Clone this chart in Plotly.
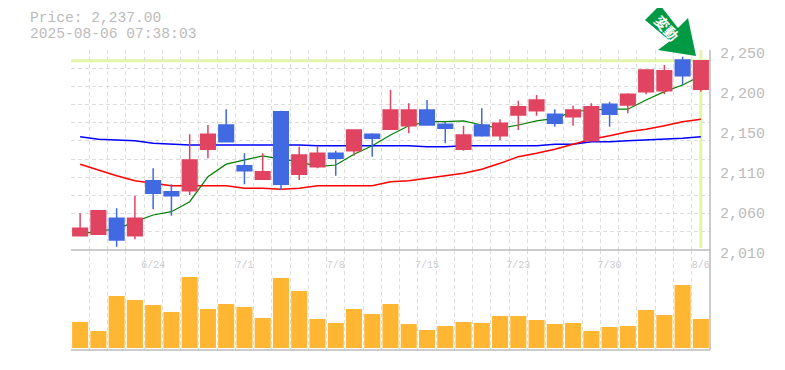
import numpy as np
import plotly.graph_objects as go

PAGE = 8  # default page margin round the figure
WIDTH, HEIGHT = 769, 354
L, R, T, B = 63, 67, 42, 12

opens = [2027,2029,2048,2027,2093,2080,2081,2131,2160,2111,2095,2176,2101,2110,2126,2129,2149,2155,2159,2178,2161,2131,2160,2147,2172,2177,2173,2170,2141,2185,2184,2200,2201,2238,2203]
highs = [2054,2057,2060,2075,2108,2089,2149,2160,2179,2126,2126,2177,2134,2135,2129,2154,2150,2202,2186,2190,2164,2159,2180,2167,2189,2196,2179,2183,2186,2188,2198,2226,2232,2242,2237]
lows = [2027,2029,2014,2023,2059,2051,2076,2120,2140,2089,2095,2082,2094,2108,2099,2123,2122,2154,2150,2159,2138,2129,2146,2142,2154,2171,2158,2159,2141,2158,2174,2197,2197,2208,2200]
closes = [2036,2057,2022,2048,2078,2075,2118,2149,2140,2105,2104,2089,2124,2126,2120,2154,2144,2178,2178,2160,2156,2148,2147,2162,2182,2190,2162,2178,2182,2173,2197,2226,2225,2219,2237]
ma_short = [2029,2033,2035,2044,2052,2056,2068,2098,2113,2118,2123,2119,2116,2110,2112,2125,2135,2148,2159,2164,2164,2165,2160,2156,2160,2165,2168,2176,2178,2179,2179,2190,2200,2208,2219]
ma_mid = [2113,2106,2099,2093,2090,2087,2087,2087,2087,2084,2084,2083,2084,2087,2087,2087,2087,2092,2093,2096,2099,2102,2107,2114,2122,2126,2131,2137,2143,2147,2152,2155,2159,2164,2167]
ma_long = [2146,2143,2142,2141,2138,2137,2136,2136,2136,2136,2136,2136,2136,2135,2135,2135,2135,2135,2135,2134,2134,2135,2135,2135,2135,2135,2137,2137,2140,2140,2141,2142,2143,2144,2146]
volumes = [26,17,52,48,43,36,71,39,44,41,30,70,57,29,25,39,34,44,24,18,22,26,25,32,32,28,24,25,17,21,22,38,33,63,29]
date_idx = [4,9,14,19,24,29,34]
date_labels = ["6/24","7/1","7/8","7/15","7/23","7/30","8/6"]
price_ticks = [2250,2202,2154,2106,2058,2010]
price_labels = ["2,250","2,200","2,150","2,110","2,060","2,010"]
current_price = 2237
title_lines = ["Price: 2,237.00","2025-08-06 07:38:03"]
badge_text = "変動"

idx = list(range(len(opens)))
xr = [-0.5, len(opens)-0.5]
yr = [2010, 2250]
vr = [-2, 98]
GRID = "#dddddd"; FRAME = "#bbbbbb"; TXT = "#bbbbbb"; HL = "#e2f5a8"
MONO = "Liberation Mono"
CLEAR = "rgba(0,0,0,0)"

def px(x): return (x-PAGE-L)/(WIDTH-L-R)
def py(y): return (HEIGHT-B-(y-PAGE))/(HEIGHT-T-B)

fig = go.Figure()
for vals, col, w in [(ma_long,"#0000ff",1.5),(ma_mid,"#ff0000",1.5),(ma_short,"#008000",1.2)]:
    fig.add_trace(go.Scatter(x=idx,y=vals,mode="lines",line=dict(color=col,width=w),xaxis="x",yaxis="y",showlegend=False,hoverinfo="skip"))
fig.add_trace(go.Candlestick(x=idx,open=opens,high=highs,low=lows,close=closes,xaxis="x",yaxis="y2",showlegend=False,whiskerwidth=0,
    increasing=dict(line=dict(color="#e04460",width=1.5),fillcolor="#e04460"),
    decreasing=dict(line=dict(color="#4169e1",width=1.5),fillcolor="#4169e1")))
fig.add_trace(go.Bar(x=idx,y=volumes,xaxis="x3",yaxis="y4",marker=dict(color="#ffb733",line_width=0),showlegend=False))
fig.add_trace(go.Scatter(x=[None],y=[None],xaxis="x5",yaxis="y3",showlegend=False))

grid_x = [i-0.5 for i in idx]
grid_y = [float(v) for v in np.linspace(yr[0],yr[1],12)]
split = py(250)
xgrid = dict(domain=[0,1],range=xr,tickmode="array",tickvals=grid_x,showticklabels=False,ticks="",showgrid=True,gridcolor=GRID,griddash="4px,3px",gridwidth=1,zeroline=False,showline=False)
fig.update_layout(
    width=WIDTH,height=HEIGHT,autosize=False,
    margin=dict(l=L,r=R,t=T,b=B,autoexpand=False),paper_bgcolor="white",plot_bgcolor=CLEAR,
    boxgap=0.2,boxgroupgap=0,bargap=0.12,showlegend=False,
    xaxis=dict(anchor="y",rangeslider=dict(visible=False),**xgrid),
    xaxis3=dict(anchor="y4",**xgrid),
    xaxis5=dict(domain=[0,1],anchor="y3",range=xr,tickmode="array",tickvals=date_idx,ticktext=date_labels,
        tickfont=dict(family=MONO,size=10,color="#cccccc"),showgrid=False,zeroline=False,showline=False,ticks="outside",ticklen=2,tickcolor=CLEAR),
    yaxis=dict(domain=[split,1],anchor="x",range=yr,tickmode="array",tickvals=grid_y,showticklabels=False,ticks="",showgrid=True,gridcolor=GRID,griddash="4px,3px",gridwidth=1,zeroline=False,showline=False),
    yaxis2=dict(overlaying="y",anchor="x",range=yr,showticklabels=False,ticks="",showgrid=False,zeroline=False,showline=False),
    yaxis3=dict(domain=[py(253),py(53)],anchor="x5",side="right",range=yr,tickmode="array",tickvals=price_ticks,ticktext=price_labels,
        tickfont=dict(family=MONO,size=15,color=TXT),showgrid=False,zeroline=False,showline=False,ticks="outside",ticklen=6,tickcolor=CLEAR),
    yaxis4=dict(domain=[0,split],anchor="x3",range=vr,showticklabels=False,ticks="",showgrid=False,zeroline=False,showline=False),
    shapes=[
        dict(type="line",xref="x",yref="y",x0=xr[0],x1=xr[1],y0=current_price,y1=current_price,line=dict(color=HL,width=3),layer="below"),
        dict(type="line",xref="x",yref="paper",x0=idx[-1],x1=idx[-1],y0=py(248),y1=py(50),line=dict(color=HL,width=3),layer="below"),
        dict(type="line",xref="paper",yref="paper",x0=0,x1=1,y0=split,y1=split,line=dict(color=FRAME,width=1.5)),
        dict(type="line",xref="paper",yref="paper",x0=0,x1=1,y0=0,y1=0,line=dict(color=FRAME,width=1.5)),
        dict(type="line",xref="paper",yref="paper",x0=1,x1=1,y0=0,y1=1,line=dict(color=FRAME,width=1.5)),
        dict(type="path",xref="paper",yref="paper",fillcolor="#009944",line=dict(width=0),
             path="M {} {} L {} {} L {} {} L {} {} L {} {} L {} {} L {} {} Z".format(
                 px(660),py(5),px(645),py(20),px(670),py(41),px(658),py(50),px(696),py(56),px(688),py(18),px(678),py(28))),
    ],
    annotations=[
        dict(text=title_lines[0],xref="paper",yref="paper",x=px(29),y=py(18),xanchor="left",yanchor="middle",showarrow=False,borderpad=0,font=dict(family=MONO,size=14.6,color=TXT)),
        dict(text=title_lines[1],xref="paper",yref="paper",x=px(29),y=py(34.5),xanchor="left",yanchor="middle",showarrow=False,borderpad=0,font=dict(family=MONO,size=14.6,color=TXT)),
        dict(text="<b>"+badge_text+"</b>",xref="paper",yref="paper",x=px(667),y=py(28),xanchor="center",yanchor="middle",showarrow=False,textangle=48,font=dict(family="Noto Sans CJK JP",size=14,color="white")),
    ],
)
fig.write_html("out.html")
